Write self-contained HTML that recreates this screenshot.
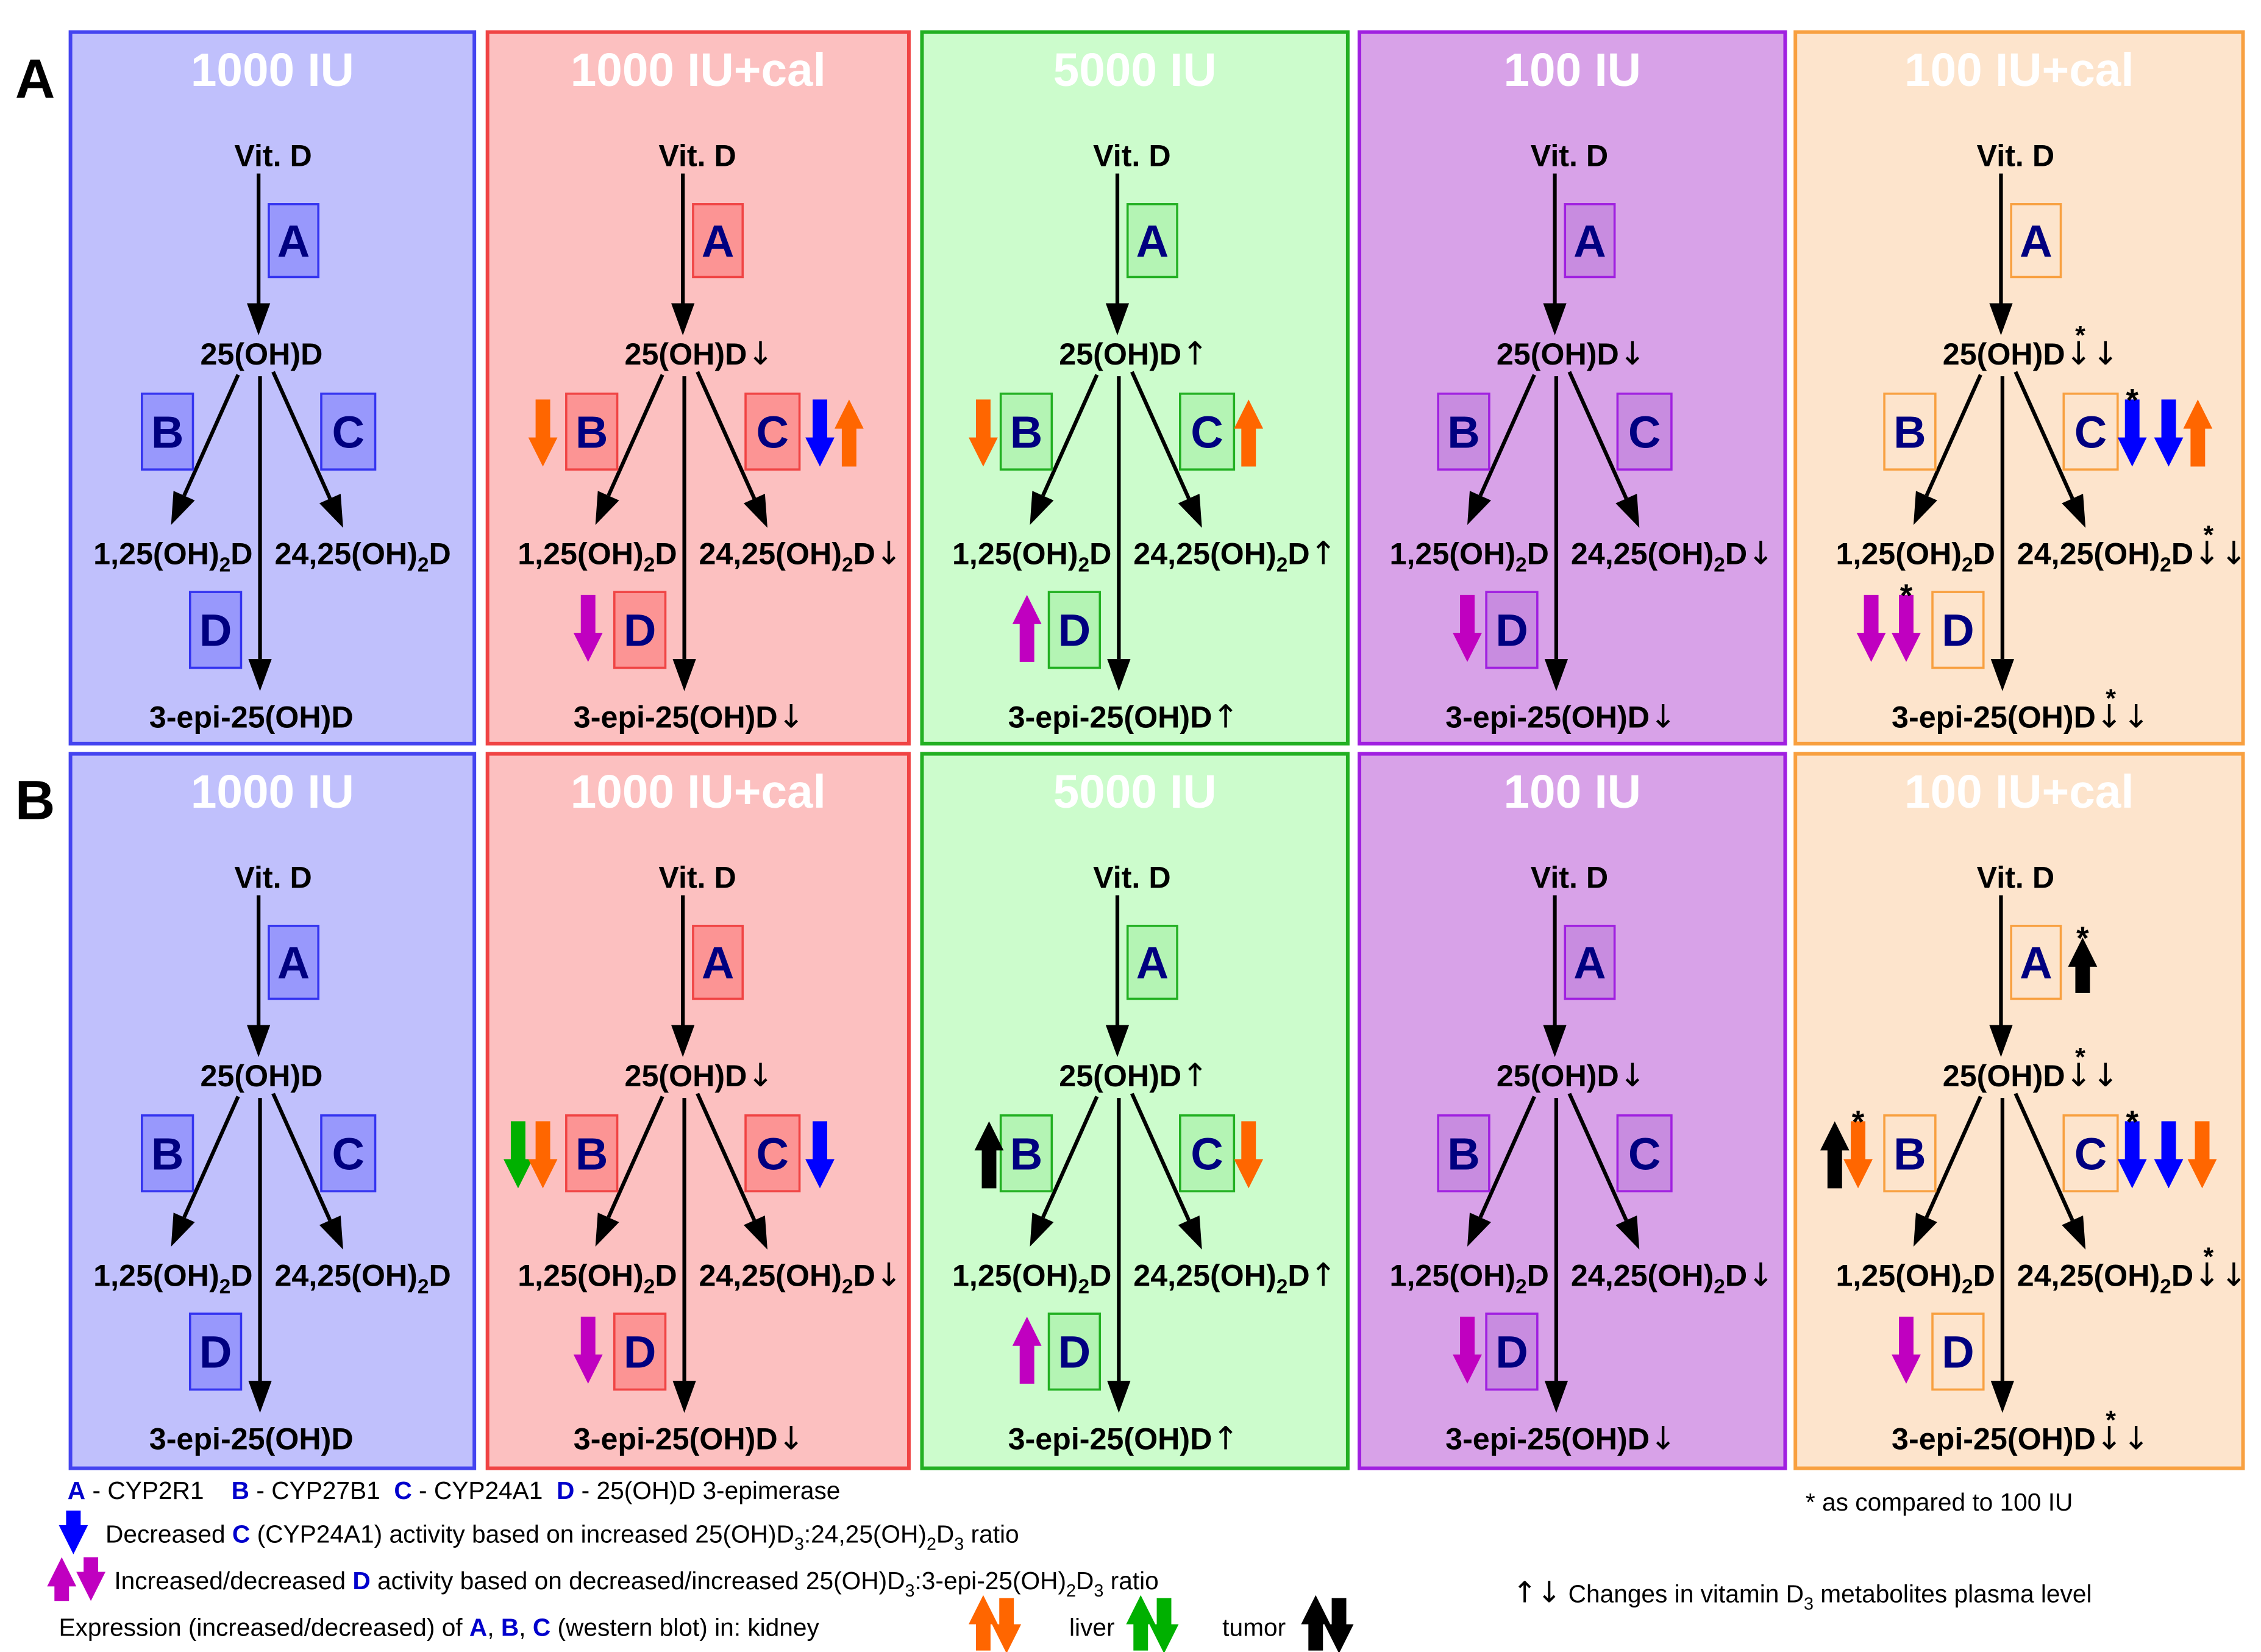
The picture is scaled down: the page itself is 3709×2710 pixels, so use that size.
<!DOCTYPE html>
<html><head><meta charset="utf-8">
<style>
html,body{margin:0;padding:0;background:#fff;}
svg{display:block;}
text{font-family:"Liberation Sans","DejaVu Sans",sans-serif;font-weight:bold;}
.arr{font-family:"DejaVu Sans",sans-serif;font-weight:normal;}
</style></head>
<body>
<svg id="fig" xmlns="http://www.w3.org/2000/svg" width="3709" height="2710" viewBox="0 0 1550 1133">
<rect x="0" y="0" width="1550" height="1133" fill="#fff"/>
<text x="10" y="67" font-size="38">A</text>
<text x="10" y="562" font-size="38">B</text>
<g id="panels"></g>
<g id="legend">
  <text x="46" y="1028" font-size="17" style="font-weight:normal"><tspan fill="#0000cc" font-weight="bold">A</tspan> - CYP2R1 &#160;&#160;&#160;<tspan fill="#0000cc" font-weight="bold">B</tspan> - CYP27B1 &#160;<tspan fill="#0000cc" font-weight="bold">C</tspan> - CYP24A1 &#160;<tspan fill="#0000cc" font-weight="bold">D</tspan> - 25(OH)D 3-epimerase</text>
  <text x="72" y="1058" font-size="17" style="font-weight:normal">Decreased <tspan fill="#0000cc" font-weight="bold">C</tspan> (CYP24A1) activity based on increased 25(OH)D<tspan dy="5" font-size="12">3</tspan><tspan dy="-5">:24,25(OH)</tspan><tspan dy="5" font-size="12">2</tspan><tspan dy="-5">D</tspan><tspan dy="5" font-size="12">3</tspan><tspan dy="-5"> ratio</tspan></text>
  <text x="78" y="1090" font-size="17" style="font-weight:normal">Increased/decreased <tspan fill="#0000cc" font-weight="bold">D</tspan> activity based on decreased/increased 25(OH)D<tspan dy="5" font-size="12">3</tspan><tspan dy="-5">:3-epi-25(OH)</tspan><tspan dy="5" font-size="12">2</tspan><tspan dy="-5">D</tspan><tspan dy="5" font-size="12">3</tspan><tspan dy="-5"> ratio</tspan></text>
  <text x="40" y="1122" font-size="17" style="font-weight:normal">Expression (increased/decreased) of <tspan fill="#0000cc" font-weight="bold">A</tspan>, <tspan fill="#0000cc" font-weight="bold">B</tspan>, <tspan fill="#0000cc" font-weight="bold">C</tspan> (western blot) in: kidney</text>
  <text x="733" y="1122" font-size="17" style="font-weight:normal">liver</text>
  <text x="838" y="1122" font-size="17" style="font-weight:normal">tumor</text>
  <text x="1238" y="1036" font-size="17" style="font-weight:normal">* as compared to 100 IU</text>
  <text x="1037" y="1099" font-size="17" style="font-weight:normal"><tspan class="arr" font-size="20">↑↓</tspan> Changes in vitamin D<tspan dy="5" font-size="12">3</tspan><tspan dy="-5"> metabolites plasma level</tspan></text>
</g>
</svg>
<script>
const NS="http://www.w3.org/2000/svg";
const svg=document.getElementById('fig');
const panelsG=document.getElementById('panels');
const legendG=document.getElementById('legend');

const cols=[[48,277],[334,289],[632,292],[932,292],[1231,307]];
const rowsY=[22,517];
const titles=["1000 IU","1000 IU+cal","5000 IU","100 IU","100 IU+cal"];
const themes=[
 {bg:"#c0c0fc",border:"#4444f0",box:"#9898fc",boxB:"#3434f0"},
 {bg:"#fcc0c0",border:"#f04444",box:"#fc9494",boxB:"#f04444"},
 {bg:"#ccfccc",border:"#22b022",box:"#b4f4b4",boxB:"#22b022"},
 {bg:"#d8a2e8",border:"#a020e0",box:"#c88ce0",boxB:"#a020e0"},
 {bg:"#fde4cc",border:"#f8a040",box:"#fde4cc",boxB:"#f8a040"}
];
const levels=["","d","u","d","dd"];
const indicators=[
 [[],
  [[-96,"B","d","#ff6600"],[94,"C","d","#0000ff"],[114,"C","u","#ff6600"],[-65,"D","d","#c000c0"]],
  [[-92,"B","d","#ff6600"],[90,"C","u","#ff6600"],[-62,"D","u","#c000c0"]],
  [[-60,"D","d","#c000c0"]],
  [[90,"C","d","#0000ff",1],[115,"C","d","#0000ff"],[135,"C","u","#ff6600"],[-89,"D","d","#c000c0"],[-65,"D","d","#c000c0",1]]],
 [[],
  [[-113,"B","d","#00b000"],[-96,"B","d","#ff6600"],[94,"C","d","#0000ff"],[-65,"D","d","#c000c0"]],
  [[-88,"B","u","#000000"],[90,"C","d","#ff6600"],[-62,"D","u","#c000c0"]],
  [[-60,"D","d","#c000c0"]],
  [[56,"A","u","#000000",1],[-114,"B","u","#000000"],[-98,"B","d","#ff6600",1],[90,"C","d","#0000ff",1],[115,"C","d","#0000ff"],[138,"C","d","#ff6600"],[-65,"D","d","#c000c0"]]]
];

function el(tag,attrs,parent){const e=document.createElementNS(NS,tag);for(const k in attrs)e.setAttribute(k,attrs[k]);(parent||svg).appendChild(e);return e;}

function lineArrow(g,x1,y1,x2,y2){
  const dx=x2-x1,dy=y2-y1,len=Math.hypot(dx,dy),ux=dx/len,uy=dy/len;
  const hl=22,hw=8;
  const bx=x2-ux*hl,by=y2-uy*hl;
  el('line',{x1:x1,y1:y1,x2:bx,y2:by,stroke:"#000","stroke-width":2.6},g);
  el('polygon',{points:`${x2},${y2} ${bx-uy*hw},${by+ux*hw} ${bx+uy*hw},${by-ux*hw}`,fill:"#000"},g);
}
function blockArrow(g,cx,top,len,dir,color){
  const sw=5,hw=10,hl=20;
  let pts;
  if(dir==="d"){const hb=top+len-hl;pts=[[cx-sw,top],[cx+sw,top],[cx+sw,hb],[cx+hw,hb],[cx,top+len],[cx-hw,hb],[cx-sw,hb]];}
  else{const hb=top+hl;pts=[[cx,top],[cx+hw,hb],[cx+sw,hb],[cx+sw,top+len],[cx-sw,top+len],[cx-sw,hb],[cx-hw,hb]];}
  return el('polygon',{points:pts.map(q=>q.join(",")).join(" "),fill:color},g);
}
function box(g,x,y,w,h,letter,th){
  const b=el('g',{},g);
  
  
  el('rect',{x:x,y:y,width:w,height:h,fill:th.box,stroke:th.boxB,"stroke-width":1.5},b);
  const t=el('text',{x:x+w/2,y:y+h/2+11,"text-anchor":"middle","font-size":31,fill:"#000080"},b);
  t.textContent=letter;
}
function suffix(t,lv,g){
  if(!lv)return;
  const s=el('tspan',{class:"arr","font-size":22},t);
  s.textContent=lv==="u"?"↑":(lv==="d"?"↓":"↓↓");
  if(lv==="dd"){
    const bb=t.getBBox();
    const st=el('text',{x:bb.x+bb.width-30,y:bb.y+6,"font-size":18},g);
    st.textContent="*";
  }
}

rowsY.forEach((y0,r)=>{
  cols.forEach(([x0,w],c)=>{
    const th=themes[c];
    const g=el('g',{},panelsG);
    
    
    const h=r===0?488:490;
    el('rect',{x:x0,y:y0,width:w,height:h,fill:th.bg,stroke:th.border,"stroke-width":2.5},g);
    const tt=el('text',{x:x0+w/2,y:y0+37,"text-anchor":"middle","font-size":32,fill:"#fff"},g);
    tt.textContent=titles[c];
    
    
    const L=x0+(c===4?141:(c===0?129:134));
    const lv=levels[c];
    const fs=21;
    const vd=el('text',{x:L+10,y:y0+92,"text-anchor":"middle","font-size":fs},g);vd.textContent="Vit. D";
    lineArrow(g,L,y0+97,L,y0+208);
    box(g,L+7,y0+118,34,50,"A",th);
    const t25=el('text',{x:L-40,y:y0+228,"font-size":fs},g);t25.textContent="25(OH)D";suffix(t25,lv,g);
    lineArrow(g,L-14,y0+235,L-60,y0+338);
    lineArrow(g,L+10,y0+233,L+58,y0+340);
    lineArrow(g,L+1,y0+236,L+1,y0+452);
    box(g,L-80,y0+248,35,52,"B",th);
    box(g,L+43,y0+248,37,52,"C",th);
    const t1=el('text',{x:L-4,y:y0+365,"text-anchor":"end","font-size":fs},g);
    t1.innerHTML='1,25(OH)<tspan dy="5" font-size="14">2</tspan><tspan dy="-5">D</tspan>';
    const t2=el('text',{x:L+11,y:y0+365,"font-size":fs},g);
    t2.innerHTML='24,25(OH)<tspan dy="5" font-size="14">2</tspan><tspan dy="-5">D</tspan>';
    suffix(t2,lv,g);
    box(g,L-47,y0+384,35,52,"D",th);
    const t3=el('text',{x:L-75,y:y0+477,"font-size":fs},g);t3.textContent="3-epi-25(OH)D";suffix(t3,lv,g);
    indicators[r][c].forEach(([dx,reg,dir,col,star])=>{
      const top={A:y0+126,B:y0+252,C:y0+252,D:y0+386}[reg];
      const len=reg==="A"?38:46;
      const a=blockArrow(g,L+dx,top,len,dir,col);
      
      
      if(star){const s=el('text',{x:L+dx,y:top+8,"text-anchor":"middle","font-size":22},g);s.textContent="*";}
    });
  });
});
blockArrow(legendG,50,1036,30,"d","#0000ff");
blockArrow(legendG,42,1068,30,"u","#c000c0");
blockArrow(legendG,62,1068,30,"d","#c000c0");
blockArrow(legendG,674,1094,38,"u","#ff6600");
blockArrow(legendG,690,1096,38,"d","#ff6600");
blockArrow(legendG,782,1094,38,"u","#00b000");
blockArrow(legendG,798,1096,38,"d","#00b000");
blockArrow(legendG,902,1094,38,"u","#000000");
blockArrow(legendG,918,1096,38,"d","#000000");
</script>
</body></html>
